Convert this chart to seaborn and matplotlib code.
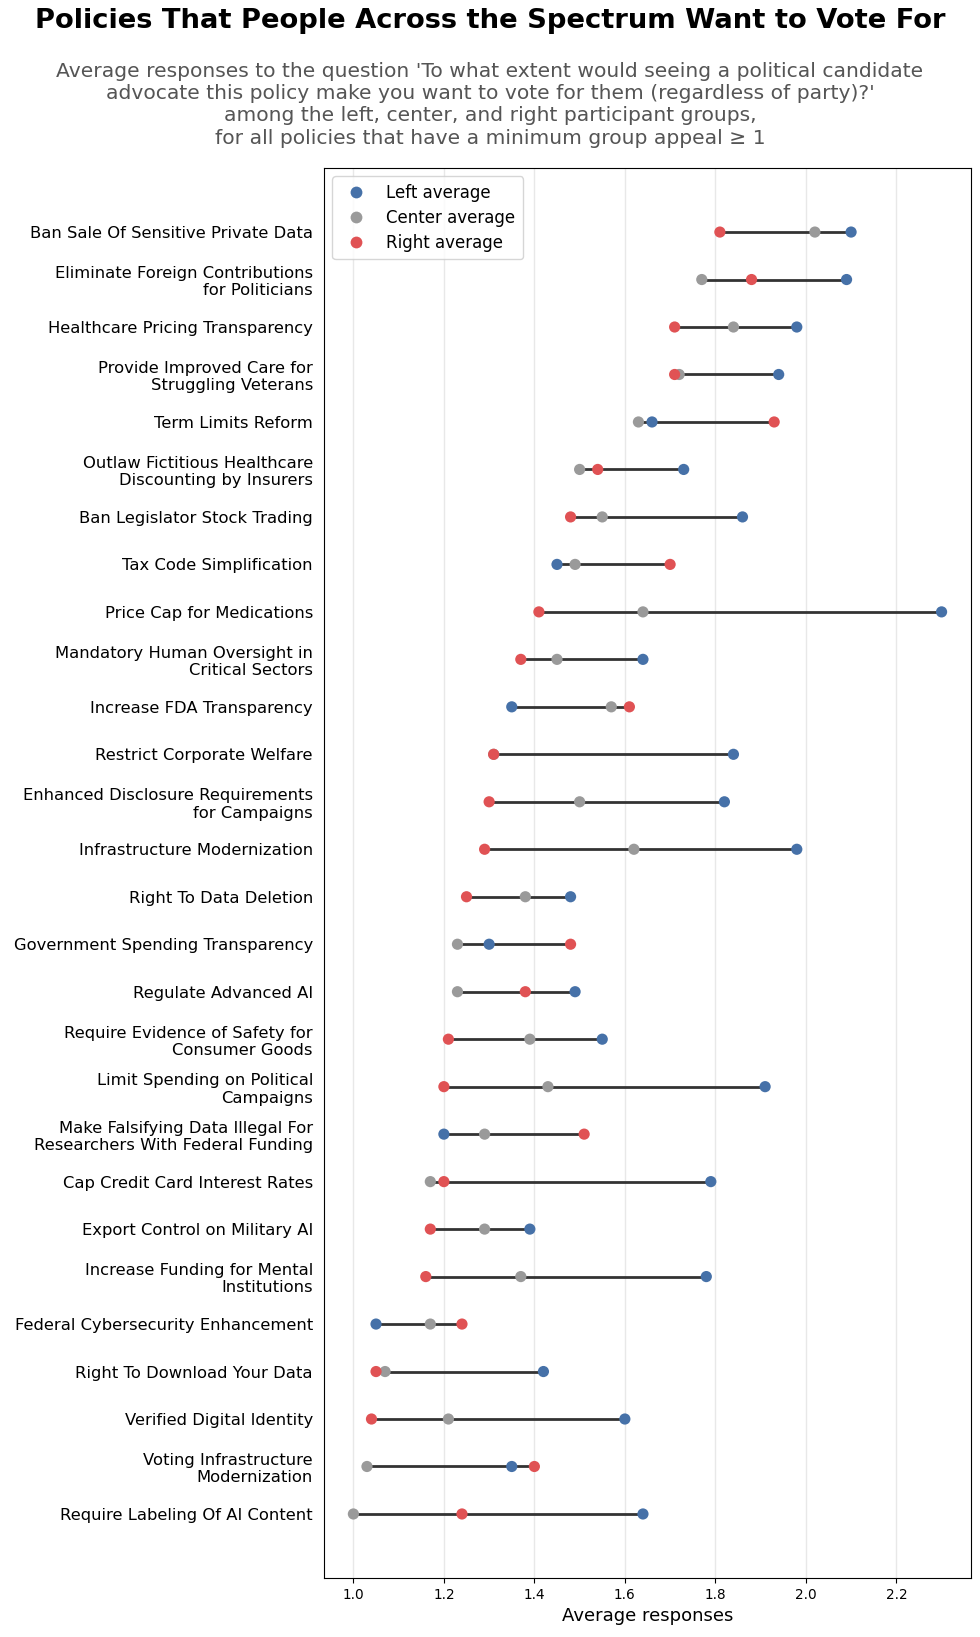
import numpy as np
import pandas as pd
import matplotlib
matplotlib.use("Agg")
import matplotlib.pyplot as plt
import seaborn as sb

policies = [
    "Ban Sale Of Sensitive Private Data",
    "Eliminate Foreign Contributions\nfor Politicians",
    "Healthcare Pricing Transparency",
    "Provide Improved Care for\nStruggling Veterans",
    "Term Limits Reform",
    "Outlaw Fictitious Healthcare\nDiscounting by Insurers",
    "Ban Legislator Stock Trading",
    "Tax Code Simplification",
    "Price Cap for Medications",
    "Mandatory Human Oversight in\nCritical Sectors",
    "Increase FDA Transparency",
    "Restrict Corporate Welfare",
    "Enhanced Disclosure Requirements\nfor Campaigns",
    "Infrastructure Modernization",
    "Right To Data Deletion",
    "Government Spending Transparency",
    "Regulate Advanced AI",
    "Require Evidence of Safety for\nConsumer Goods",
    "Limit Spending on Political\nCampaigns",
    "Make Falsifying Data Illegal For\nResearchers With Federal Funding",
    "Cap Credit Card Interest Rates",
    "Export Control on Military AI",
    "Increase Funding for Mental\nInstitutions",
    "Federal Cybersecurity Enhancement",
    "Right To Download Your Data",
    "Verified Digital Identity",
    "Voting Infrastructure\nModernization",
    "Require Labeling Of AI Content",
]

left_avg = [2.10, 2.09, 1.98, 1.94, 1.66, 1.73, 1.86, 1.45, 2.30, 1.64, 1.35, 1.84, 1.82, 1.98,
            1.48, 1.30, 1.49, 1.55, 1.91, 1.20, 1.79, 1.39, 1.78, 1.05, 1.42, 1.60, 1.35, 1.64]
center_avg = [2.02, 1.77, 1.84, 1.72, 1.63, 1.50, 1.55, 1.49, 1.64, 1.45, 1.57, 1.31, 1.50, 1.62,
              1.38, 1.23, 1.23, 1.39, 1.43, 1.29, 1.17, 1.29, 1.37, 1.17, 1.07, 1.21, 1.03, 1.00]
right_avg = [1.81, 1.88, 1.71, 1.71, 1.93, 1.54, 1.48, 1.70, 1.41, 1.37, 1.61, 1.31, 1.30, 1.29,
             1.25, 1.48, 1.38, 1.21, 1.20, 1.51, 1.20, 1.17, 1.16, 1.24, 1.05, 1.04, 1.40, 1.24]

group_names = ["Left average", "Center average", "Right average"]
group_colors = ["#4671a8", "#9a9a9a", "#e05254"]

df = pd.DataFrame({"policy": policies, "left": left_avg, "center": center_avg, "right": right_avg})
df["pos"] = np.arange(len(df))
long = df.melt(id_vars=["policy", "pos"], value_vars=["left", "center", "right"],
               var_name="group", value_name="score")
long["group"] = long["group"].map({"left": group_names[0], "center": group_names[1], "right": group_names[2]})

fig = plt.figure(figsize=(9.8, 16.37), dpi=100)
ax = fig.add_axes([0.3306, 0.036, 0.6602, 0.8614])

# connecting line from lowest to highest group score
lo = df[["left", "center", "right"]].min(axis=1)
hi = df[["left", "center", "right"]].max(axis=1)
ax.hlines(df["pos"], lo, hi, color="#333333", linewidth=2, zorder=2)

sb.scatterplot(data=long, x="score", y="pos", hue="group", hue_order=group_names,
               palette=group_colors, s=65, edgecolor="none", ax=ax, zorder=3)

ax.set_yticks(df["pos"])
ax.set_yticklabels(policies, fontsize=11.8)
ax.invert_yaxis()
ax.tick_params(axis="y", length=0, pad=8)
ax.tick_params(axis="x", labelsize=9.8)
ax.set_xticks([1.0, 1.2, 1.4, 1.6, 1.8, 2.0, 2.2])
ax.set_xlabel("Average responses", fontsize=13)
ax.set_ylabel("")
ax.grid(axis="x", color="#e8e8e8", linewidth=1)
ax.set_axisbelow(True)

leg = ax.legend(loc="upper left", fontsize=12, title=None, handletextpad=0.8,
                borderpad=0.45, labelspacing=0.42)
for h in leg.legend_handles:
    h.set_markersize(8.5)

fig.text(0.5, 0.987, "Policies That People Across the Spectrum Want to Vote For",
         ha="center", va="center", fontsize=19.7, fontweight="bold")
fig.text(0.5, 0.936,
         "Average responses to the question 'To what extent would seeing a political candidate\n"
         "advocate this policy make you want to vote for them (regardless of party)?'\n"
         "among the left, center, and right participant groups,\n"
         "for all policies that have a minimum group appeal \u2265 1",
         ha="center", va="center", fontsize=14.6, color="#555555", linespacing=1.22)

fig.savefig("out.png", dpi=100)
